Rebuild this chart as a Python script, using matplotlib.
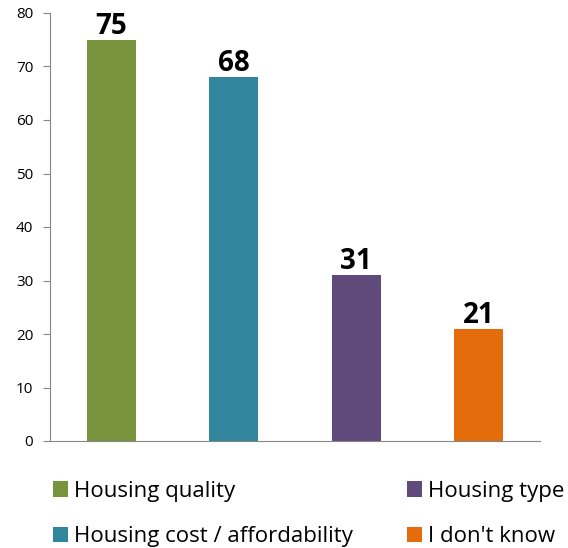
import numpy as np
import matplotlib.pyplot as plt
from matplotlib.patches import Patch

# Reasons given, in percent
categories = ['Housing quality', 'Housing cost / affordability', 'Housing type', "I don't know"]
values = [75, 68, 31, 21]
colors = ['#77933C', '#31859C', '#604A7B', '#E46C0A']

plt.rcParams['font.family'] = ['Open Sans', 'DejaVu Sans']

fig = plt.figure(figsize=(5.68, 5.48), dpi=100)
ax = fig.add_axes([50/568, 1 - 441/548, 490/568, 428/548])

x = np.arange(len(values))
bars = ax.bar(x, values, width=0.4, color=colors)
for xi, v in zip(x, values):
    ax.text(xi, v - 0.2, str(v), ha='center', va='bottom',
            fontsize=20, fontweight='bold', color='black')

ax.set_xlim(-0.5, len(values) - 0.5)
ax.set_ylim(0, 80)
ax.set_yticks(np.arange(0, 81, 10))
ax.set_xticks([])
for s in ['top', 'right']:
    ax.spines[s].set_visible(False)
for s in ['left', 'bottom']:
    ax.spines[s].set_color('#868686')
ax.tick_params(axis='y', colors='#868686', labelcolor='black', length=5,
               labelsize=11, pad=7)

handles = [Patch(facecolor=c) for c in colors]
fig.legend(handles, categories, loc='upper left', bbox_to_anchor=(0.077, 1 - 472/548),
           ncol=2, frameon=False, fontsize=16, handlelength=0.68, handleheight=0.68,
           handletextpad=0.3, columnspacing=2.4, labelspacing=1.1, borderaxespad=0)

fig.savefig('out.png', dpi=100)
